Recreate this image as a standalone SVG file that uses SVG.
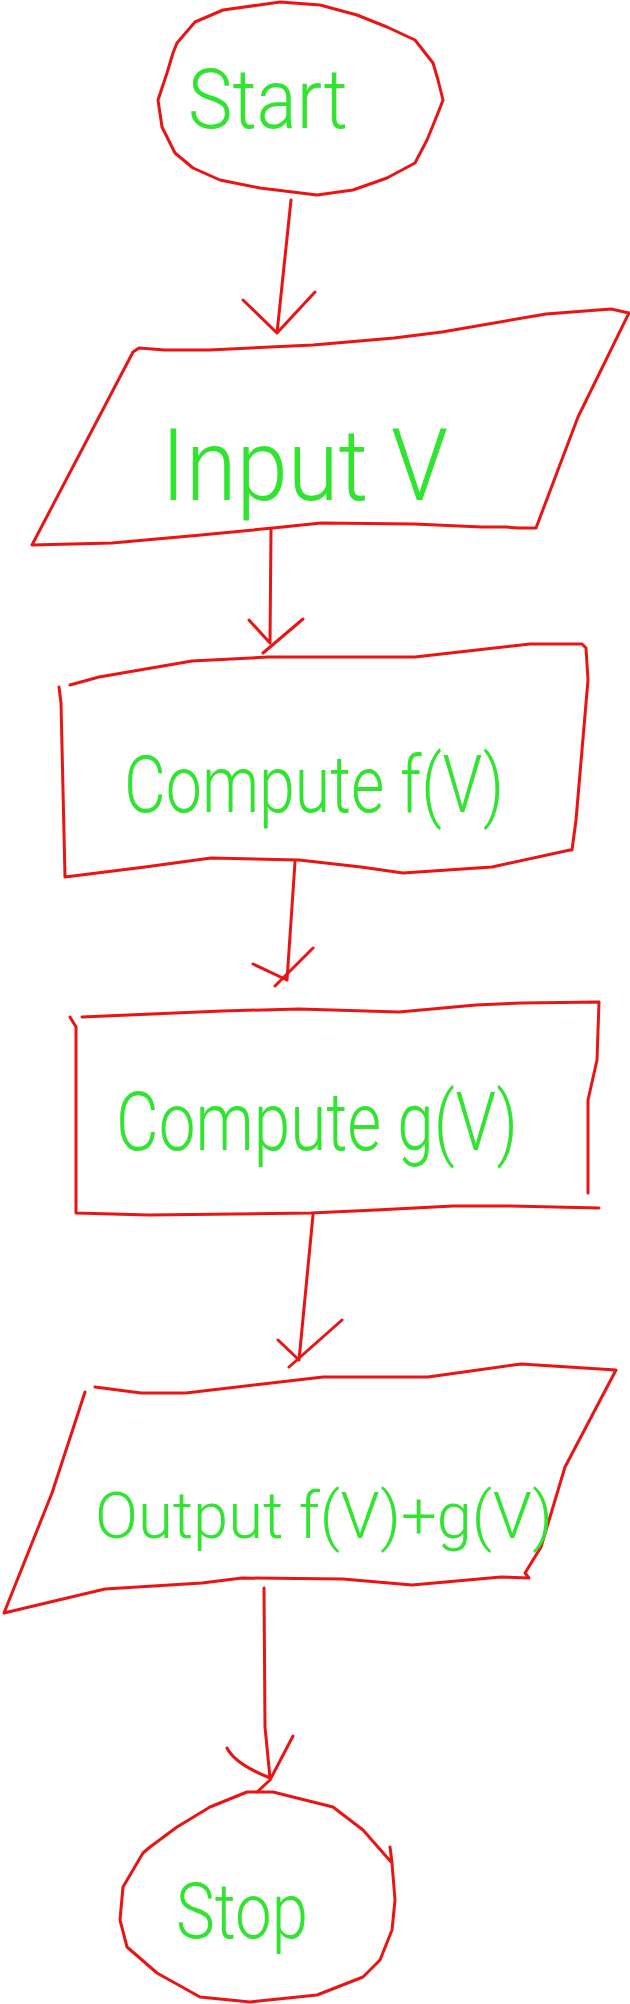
<svg xmlns="http://www.w3.org/2000/svg" width="630" height="2004" viewBox="0 0 630 2004">
<style>
.shape{fill:none;stroke:#ea1414;stroke-width:3;stroke-linejoin:round;stroke-linecap:round}
.conn{fill:none;stroke:#ea1414;stroke-width:3;stroke-linejoin:round;stroke-linecap:round}
.lbl{font-family:Roboto,"Liberation Sans",sans-serif;font-weight:300;fill:#30e430}
</style>
<rect width="630" height="2004" fill="#ffffff"/>
<g id="start">
<path class="shape" d="M158,100 L162,127 L175,153 L193,168 L220,180 L260,188 L317,195 L353,190 L387,178 L415,163 L427,140 L438,113 L443,100 L438,80 L433,63 L415,40 L387,27 L357,15 L320,5 L280,2 L223,10 L195,22 L177,43 L173,53 L167,73 Z"/>
<text class="lbl" x="188" y="128" font-size="84" textLength="160" lengthAdjust="spacingAndGlyphs">Start</text>
</g>
<g id="input">
<path class="shape" d="M139,348 L165,350 L209,350 L313,345 L394,338 L442,332 L546,314 L611,309 L629,313 L578,417 L536,528 L518,528 L506,527 L482,527 L414,524 L321,523 L273,528 L201,535 L112,543 L32,545 L133,352 Z"/>
<text class="lbl" x="161" y="500" font-size="100" textLength="287" lengthAdjust="spacingAndGlyphs">Input V</text>
</g>
<g id="computeF">
<path class="shape" d="M70,685 L99,677 L192,661 L268,657 L338,657 L415,657 L530,644 L582,644 L586,648 L588,680 L576,820 L572,850 L570,850 L492,867 L403,873 L361,867 L299,860 L211,858 L145,867 L65,877 L61,703 L59,687"/>
<text class="lbl" x="124" y="812" font-size="80" textLength="380" lengthAdjust="spacingAndGlyphs">Compute f(V)</text>
</g>
<g id="computeG">
<path class="shape" d="M82,1017 L222,1011 L299,1009 L399,1012 L476,1005 L522,1003 L599,1002 L597,1060 L588,1100 L588,1193 M599,1208 L511,1206 L453,1206 L376,1210 L311,1213 L149,1215 L76,1213 L76,1027 L70,1017"/>
<text class="lbl" x="116" y="1150" font-size="82" textLength="402" lengthAdjust="spacingAndGlyphs">Compute g(V)</text>
</g>
<g id="output">
<path class="shape" d="M95,1387 L141,1393 L186,1393 L323,1377 L428,1377 L521,1364 L616,1370 L565,1467 L541,1547 L525,1573 L529,1578 L501,1577 L412,1585 L343,1579 L242,1578 L202,1583 L105,1589 L4,1613 L52,1493 L85,1392"/>
<text class="lbl" x="95" y="1538" font-size="64" textLength="458" lengthAdjust="spacingAndGlyphs">Output f(V)+g(V)</text>
</g>
<g id="stop">
<path class="shape" d="M247,1792 L273,1792 L333,1807 L363,1830 L392,1863 L395,1900 L392,1930 L380,1960 L363,1977 L317,1995 L250,2002 L200,1997 L157,1973 L127,1947 L120,1920 L123,1887 L143,1853 L150,1847 L177,1827 L210,1807 Z M390,1847 L392,1863"/>
<text class="lbl" x="176" y="1938" font-size="78" textLength="132" lengthAdjust="spacingAndGlyphs">Stop</text>
</g>
<g id="connectors">
<path class="conn" d="M291,200 L277,333 M243,300 L277,333 L315,292"/>
<path class="conn" d="M271,530 L270,643 M249,620 L270,643 M303,619 L263,653"/>
<path class="conn" d="M295,862 L287,980 M253,964 L287,980 M313,948 L275,986"/>
<path class="conn" d="M313,1215 L299,1360 M278,1340 L299,1360 M342,1320 L289,1367"/>
<path class="conn" d="M264,1588 L265,1727 L270,1778 M227,1748 Q235,1764 270,1778 M293,1736 L270,1780 L257,1792"/>
</g>
</svg>
